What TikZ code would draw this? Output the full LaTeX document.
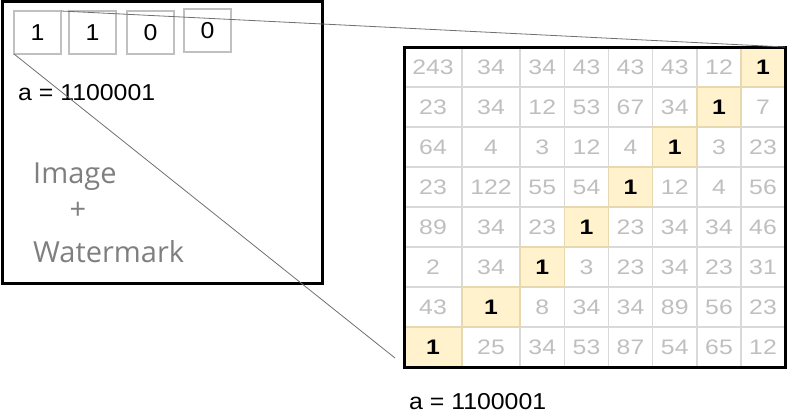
\documentclass[tikz,border=0pt]{standalone}
\usepackage{fontspec}
\setmainfont{Liberation Sans}
\newfontfamily\wmfont{Open Sans}
\definecolor{numgray}{HTML}{BFBFBF}
\definecolor{gridgray}{HTML}{D9D9D9}
\definecolor{hlfill}{HTML}{FFF2CC}
\definecolor{hlborder}{HTML}{E6D9B0}
\definecolor{boxgray}{HTML}{C0C0C0}
\definecolor{wmgray}{HTML}{7F7F7F}
\definecolor{linkgray}{HTML}{707070}
\newcommand{\hs}[1]{\scalebox{1.18}[1]{#1}}
\newcommand{\ls}[1]{\scalebox{1.08}[1]{#1}}
\begin{document}
\begin{tikzpicture}[x=1pt,y=-1pt,
  numfont/.style={font=\fontsize{21}{25}\selectfont},
  cell/.style={draw=gridgray, line width=1.5pt, minimum height=40pt, inner sep=0pt, outer sep=0pt, text=numgray, numfont},
  hcell/.style={cell, fill=hlfill, draw=hlborder, text=black, font=\fontsize{21}{25}\selectfont\bfseries},
  bitbox/.style={draw=boxgray, line width=2.5pt, minimum width=47pt, minimum height=43pt, inner sep=0pt, outer sep=0pt, font=\fontsize{23}{27}\selectfont},
  label/.style={font=\fontsize{23}{27}\selectfont, inner sep=0pt, anchor=base west},
  wm/.style={font=\wmfont\fontsize{29}{34}\selectfont, text=wmgray, inner sep=0pt},
  link/.style={draw=linkgray, line width=0.8pt}
]
\useasboundingbox (0,0) rectangle (797,418);

% left image box
\node (img) [draw, line width=3pt, minimum width=320.5pt, minimum height=281.5pt, inner sep=0pt, outer sep=0pt] at (162.25,142.25) {};

% bit boxes
\node (b1) [bitbox] at (37.5,32.5) {\ls{1}};
\node (b2) [bitbox] at (92.5,32.5) {\ls{1}};
\node (b3) [bitbox] at (150.5,32.5) {\ls{0}};
\node (b4) [bitbox] at (207.5,30.5) {\ls{0}};

\node (la) [label] at (18,100) {\ls{a = 1100001}};

\node (wi) [wm, anchor=base west] at (33,183) {Image};
\node (wp) [wm] at (78,211) {+};
\node (ww) [wm, anchor=base west] at (33,262) {Watermark};

% grid
\foreach \r/\vals in {0/{243,34,34,43,43,43,12,1},
                      1/{23,34,12,53,67,34,1,7},
                      2/{64,4,3,12,4,1,3,23},
                      3/{23,122,55,54,1,12,4,56},
                      4/{89,34,23,1,23,34,34,46},
                      5/{2,34,1,3,23,34,23,31},
                      6/{43,1,8,34,34,89,56,23},
                      7/{1,25,34,53,87,54,65,12}} {
  \foreach \v [count=\c from 0] in \vals {
    \pgfmathsetmacro\cx{{433,491,542.25,586.5,630.5,674.75,719,763}[\c]}
    \pgfmathsetmacro\cw{{58,58,44.5,44,44,44.5,44,44}[\c]}
    \pgfmathsetmacro\cy{67+40*\r}
    \ifnum\c=\numexpr7-\r\relax\else
      \node (cell-\r-\c) [cell, minimum width=\cw pt] at (\cx,\cy) {\hs{\v}};
    \fi
  }
}
\foreach \r in {0,...,7} {
  \pgfmathtruncatemacro\c{7-\r}
  \pgfmathsetmacro\cx{{433,491,542.25,586.5,630.5,674.75,719,763}[\c]}
  \pgfmathsetmacro\cw{{58,58,44.5,44,44,44.5,44,44}[\c]}
  \pgfmathsetmacro\cy{67+40*\r}
  \node (cell-\r-\c) [hcell, minimum width=\cw pt] at (\cx,\cy) {\hs{1}};
}
\draw[line width=3pt] (cell-0-0.north west) rectangle (cell-7-7.south east);

\node (lb) [label] at (409,409) {\ls{a = 1100001}};

% connectors
\coordinate (zoomend) at (395,358);
\draw[link] (b1.north east) -- (cell-0-7.north east);
\draw[link] (b1.south west) -- (zoomend);
\end{tikzpicture}
\end{document}
